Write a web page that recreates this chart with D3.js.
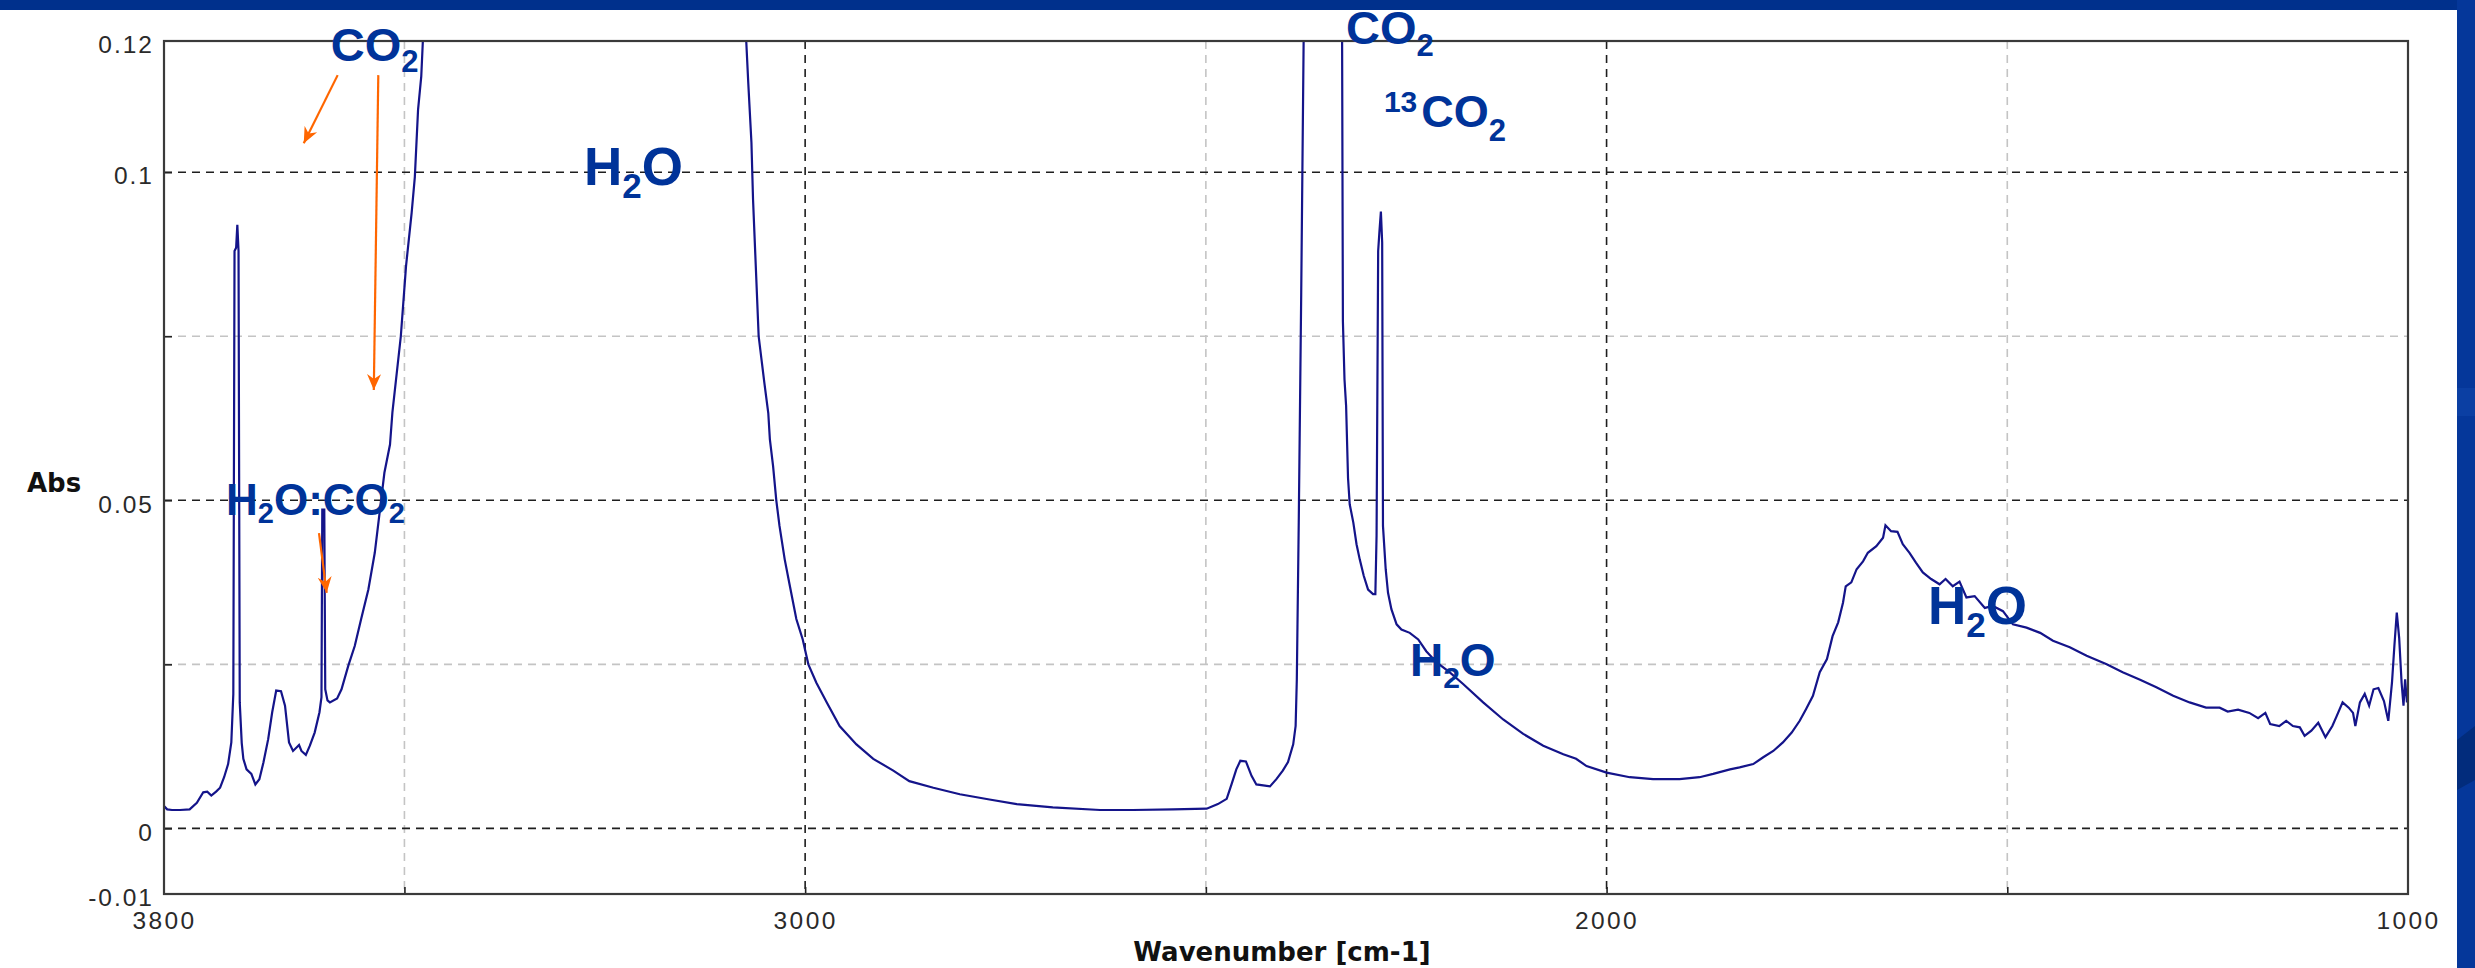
<!DOCTYPE html>
<html>
<head>
<meta charset="utf-8">
<script src="https://cdn.jsdelivr.net/npm/d3@7"></script>
<style>
  body { margin: 0; background: #fff; overflow: hidden; }
</style>
</head>
<body>
<div id="entry"></div>
<script>
// spectrum (wavenumber in cm-1, absorbance)
// 0.3 marks the parts that run past the 0.12 top of the plot
const wavenumbers = [
  3800, 3796, 3790, 3780, 3768, 3759, 3751, 3746, 3741, 3735, 3730, 3725, 3720, 3716,
  3713.5, 3712, 3710, 3708.5, 3707, 3705.5, 3703, 3701, 3697, 3691, 3686, 3681, 3676,
  3670, 3665, 3660, 3654, 3649, 3644, 3639, 3634, 3631.5, 3628.5, 3623, 3618, 3612,
  3606, 3603.5, 3602.5, 3600, 3598.8, 3596, 3593, 3584, 3578.5, 3570, 3562, 3554, 3545,
  3537, 3531, 3525, 3518, 3515, 3504.5, 3498, 3491, 3487, 3483, 3479, 3477, 3470,
  3080, 3073.5, 3071, 3067, 3065, 3058, 3051, 3046, 3044, 3040, 3036, 3032, 3025.5,
  3019, 3011, 3003, 2996, 2986, 2973, 2957, 2936, 2915, 2890, 2870, 2840, 2807, 2770,
  2736, 2691, 2632, 2591, 2541, 2499, 2485, 2474, 2468, 2462, 2457, 2450, 2443, 2437,
  2420, 2412, 2404, 2397.5, 2391, 2388, 2386.5, 2384, 2381, 2378, 2374,
  2336, 2330, 2329, 2327, 2325, 2322.6, 2320.5, 2316, 2312, 2308, 2303, 2297.6, 2291.4,
  2288.5, 2287, 2285, 2283.5, 2281.6, 2280, 2279, 2275.6, 2272.7, 2268.5, 2262, 2256,
  2245.6, 2235, 2225, 2212, 2196, 2179, 2154, 2129, 2104, 2079, 2054, 2038, 2025, 2000,
  1971, 1942, 1909, 1884, 1867, 1846, 1834, 1817, 1805, 1792, 1780, 1769, 1759, 1751,
  1742.5, 1734, 1725, 1718, 1711, 1705, 1701.6, 1694.6, 1688, 1680, 1674, 1663.4, 1655,
  1652, 1645, 1637, 1630.4, 1622, 1614, 1605.4, 1595, 1584.5, 1577, 1568, 1559.6, 1551,
  1540.7, 1528, 1518, 1505.4, 1493, 1476, 1459, 1443, 1422, 1401, 1376, 1356, 1335,
  1314, 1293, 1272.5, 1252, 1235, 1225, 1212, 1198, 1187, 1178, 1172, 1160.6, 1152,
  1143.6, 1135, 1129, 1120.6, 1112, 1103, 1094.4, 1089, 1081.6, 1074, 1068.6, 1065.7,
  1060, 1054, 1048.5, 1043, 1037, 1030, 1024.6, 1020, 1017, 1014, 1011, 1008, 1005.6,
  1003.6, 1001.3, 1000
];
const absorbance = [
  0.0034, 0.0029, 0.0028, 0.0028, 0.0029, 0.0039, 0.0055, 0.0056, 0.0050, 0.0056, 0.0062, 0.0078, 0.0098, 0.0131,
  0.0205, 0.0880, 0.0885, 0.0920, 0.0880, 0.0192, 0.0130, 0.0106, 0.0090, 0.0083, 0.0067, 0.0075, 0.0100,
  0.0136, 0.0177, 0.0210, 0.0209, 0.0187, 0.0131, 0.0118, 0.0124, 0.0127, 0.0118, 0.0112, 0.0126, 0.0146,
  0.0177, 0.0200, 0.0486, 0.0486, 0.0212, 0.0195, 0.0192, 0.0198, 0.0212, 0.0248, 0.0278, 0.0319, 0.0364,
  0.0420, 0.0481, 0.0542, 0.0585, 0.0634, 0.0750, 0.0857, 0.0938, 0.0993, 0.1095, 0.1146, 0.1200, 0.3,
  0.3, 0.1200, 0.1137, 0.1045, 0.0958, 0.0750, 0.0680, 0.0633, 0.0593, 0.0552, 0.0500, 0.0461, 0.0410,
  0.0369, 0.0319, 0.0288, 0.0250, 0.0222, 0.0192, 0.0156, 0.0128, 0.0106, 0.0088, 0.0072, 0.0062, 0.0052, 0.0044,
  0.0037, 0.0032, 0.0028, 0.0028, 0.0029, 0.0030, 0.0037, 0.0045, 0.0067, 0.0090, 0.0103, 0.0102, 0.0080, 0.0067,
  0.0064, 0.0075, 0.0088, 0.0101, 0.0128, 0.0156, 0.0227, 0.0476, 0.0817, 0.1200, 0.3,
  0.3, 0.1200, 0.0773, 0.0684, 0.0644, 0.0534, 0.0494, 0.0466, 0.0433, 0.0410, 0.0385, 0.0364, 0.0357,
  0.0357, 0.0446, 0.0880, 0.0908, 0.0940, 0.0893, 0.0461, 0.0395, 0.0359, 0.0334, 0.0311, 0.0303,
  0.0298, 0.0288, 0.0270, 0.0253, 0.0238, 0.0220, 0.0192, 0.0166, 0.0144, 0.0126, 0.0113, 0.0106, 0.0095, 0.0085,
  0.0078, 0.0075, 0.0075, 0.0078, 0.0083, 0.0090, 0.0093, 0.0098, 0.0108, 0.0118, 0.0131, 0.0146, 0.0164, 0.0182,
  0.0202, 0.0238, 0.0258, 0.0293, 0.0314, 0.0344, 0.0369, 0.0375, 0.0395, 0.0407, 0.0420, 0.0430, 0.0443,
  0.0462, 0.0453, 0.0452, 0.0433, 0.0420, 0.0405, 0.0390, 0.0380, 0.0372, 0.0380, 0.0369, 0.0376, 0.0352,
  0.0354, 0.0336, 0.0339, 0.0331, 0.0311, 0.0306, 0.0298, 0.0286, 0.0276, 0.0263, 0.0250, 0.0238, 0.0227,
  0.0215, 0.0202, 0.0192, 0.0184, 0.0184, 0.0178, 0.0181, 0.0176, 0.0168, 0.0176, 0.0159, 0.0156, 0.0164,
  0.0156, 0.0154, 0.0141, 0.0149, 0.0161, 0.0139, 0.0156, 0.0171, 0.0192, 0.0184, 0.0176, 0.0156,
  0.0192, 0.0205, 0.0187, 0.0212, 0.0214, 0.0194, 0.0164, 0.0222, 0.0278, 0.0329, 0.0290, 0.0222, 0.0187,
  0.0227, 0.0192, 0.0200
];

const xTickLabels = [3800, 3000, 2000, 1000];
const yTickLabels = [-0.01, 0, 0.05, 0.1, 0.12];
const xMajorGrid = [3000, 2000];
const xMinorGrid = [3500, 2500, 1500];
const yMajorGrid = [0, 0.05, 0.1];
const yMinorGrid = [0.025, 0.075];

// band labels, anchored in data units (left edge, baseline)
const annotations = [
  { parts: [["CO", ""], ["2", "sub"]], wn: 3592, abs: 0.1169, size: 47, small: 31, shift: 11 },
  { parts: [["H", ""], ["2", "sub"], ["O", ""]], wn: 3276, abs: 0.0981, size: 53, small: 35, shift: 13 },
  { parts: [["H", ""], ["2", "sub"], ["O:CO", ""], ["2", "sub"]], wn: 3722.6, abs: 0.0478, size: 44, small: 29, shift: 8 },
  { parts: [["CO", ""], ["2", "sub"]], wn: 2325, abs: 0.1195, size: 47, small: 31, shift: 12 },
  { parts: [["13", "sup"], ["CO", ""], ["2", "sub"]], wn: 2277.8, abs: 0.1069, size: 45, small: 31, shift: 14 },
  { parts: [["H", ""], ["2", "sub"], ["O", ""]], wn: 2245.4, abs: 0.0232, size: 46, small: 30, shift: 12 },
  { parts: [["H", ""], ["2", "sub"], ["O", ""]], wn: 1599, abs: 0.0311, size: 53, small: 35, shift: 13 }
];

const arrows = [
  { fromWn: 3583.3, fromAbs: 0.1148, toWn: 3625.6, toAbs: 0.1044 },
  { fromWn: 3532.6, fromAbs: 0.1148, toWn: 3538.2, toAbs: 0.0668 },
  { fromWn: 3606.6, fromAbs: 0.0450, toWn: 3597.0, toAbs: 0.0359 }
];

class SpectrumChart {
    constructor(width, height){
        this.width = width;
        this.height = height;
        this.left = 164;
        this.right = 2408;
        this.top = 41;
        this.bottom = 894;
        this.x = d3.scaleLinear().domain([3800, 1000]).range([this.left, this.right]);
        this.y = d3.scaleLinear().domain([-0.01, 0.12]).range([this.bottom, this.top]);
    }

    createSVG(){
        const svg = d3.select('#entry')
            .append('svg')
            .attr('width', this.width)
            .attr('height', this.height);
        svg.append('rect')
            .attr('width', this.width)
            .attr('height', this.height)
            .attr('fill', '#ffffff');
        return svg;
    }

    createSlideFrame(svg){
        // blue slide border, top and right
        svg.append('rect')
            .attr('x', 0).attr('y', 0)
            .attr('width', this.width).attr('height', 10)
            .attr('fill', '#00308c');
        svg.append('rect')
            .attr('x', 2457).attr('y', 0)
            .attr('width', this.width - 2457).attr('height', this.height)
            .attr('fill', '#05379a');
        svg.append('rect')
            .attr('x', 2457).attr('y', 388)
            .attr('width', this.width - 2457).attr('height', 28)
            .attr('fill', '#0b3fa3');
        svg.append('path')
            .attr('d', 'M2457,740 L2475,726 L2475,780 L2457,790 Z')
            .attr('fill', '#022c7c');
    }

    createGrid(svg){
        const x = this.x, y = this.y;
        const g = svg.append('g').attr('class', 'grid');

        g.selectAll('line.hmin').data(yMinorGrid).join('line')
            .attr('class', 'hmin')
            .attr('x1', this.left).attr('x2', this.right)
            .attr('y1', d => y(d)).attr('y2', d => y(d))
            .attr('stroke', '#c4c4c4').attr('stroke-width', 1.6)
            .attr('stroke-dasharray', '8,6');

        g.selectAll('line.vmin').data(xMinorGrid).join('line')
            .attr('class', 'vmin')
            .attr('x1', d => x(d)).attr('x2', d => x(d))
            .attr('y1', this.top).attr('y2', this.bottom)
            .attr('stroke', '#c4c4c4').attr('stroke-width', 1.6)
            .attr('stroke-dasharray', '8,6');

        g.selectAll('line.hmaj').data(yMajorGrid).join('line')
            .attr('class', 'hmaj')
            .attr('x1', this.left).attr('x2', this.right)
            .attr('y1', d => y(d)).attr('y2', d => y(d))
            .attr('stroke', '#1e1e1e').attr('stroke-width', 1.6)
            .attr('stroke-dasharray', '8,6');

        g.selectAll('line.vmaj').data(xMajorGrid).join('line')
            .attr('class', 'vmaj')
            .attr('x1', d => x(d)).attr('x2', d => x(d))
            .attr('y1', this.top).attr('y2', this.bottom)
            .attr('stroke', '#1e1e1e').attr('stroke-width', 1.6)
            .attr('stroke-dasharray', '8,6');
    }

    createAxes(svg){
        const x = this.x, y = this.y;
        const plotW = this.right - this.left;

        // inward ticks at every grid line
        svg.append('g')
            .attr('transform', `translate(${this.left},0)`)
            .call(d3.axisLeft(y).tickValues(yMajorGrid.concat(yMinorGrid)).tickSize(-8).tickFormat(''))
            .call(g => g.select('.domain').remove())
            .selectAll('line').attr('stroke', '#222').attr('stroke-width', 1.6);
        svg.append('g')
            .attr('transform', `translate(0,${this.bottom})`)
            .call(d3.axisBottom(x).tickValues(xMajorGrid.concat(xMinorGrid)).tickSize(-7).tickFormat(''))
            .call(g => g.select('.domain').remove())
            .selectAll('line').attr('stroke', '#222').attr('stroke-width', 1.6);

        const yAxis = svg.append('g')
            .attr('transform', `translate(${this.left},0)`)
            .call(d3.axisLeft(y).tickValues(yTickLabels).tickSize(0).tickPadding(10).tickFormat(d => String(d)));
        yAxis.select('.domain').remove();
        yAxis.selectAll('text')
            .attr('dy', '0.48em')
            .attr('font-family', '"Liberation Sans", Arial, sans-serif')
            .attr('font-size', 24.5)
            .attr('letter-spacing', 2)
            .attr('fill', '#2a2a2a');

        const xAxis = svg.append('g')
            .attr('transform', `translate(0,${this.bottom})`)
            .call(d3.axisBottom(x).tickValues(xTickLabels).tickSize(0).tickPadding(18).tickFormat(d => String(d)));
        xAxis.select('.domain').remove();
        xAxis.selectAll('text')
            .attr('font-family', '"Liberation Sans", Arial, sans-serif')
            .attr('font-size', 24.5)
            .attr('letter-spacing', 2.4)
            .attr('fill', '#2a2a2a');

        svg.append('text')
            .attr('x', 27)
            .attr('y', 492)
            .attr('font-family', '"DejaVu Sans", sans-serif')
            .attr('font-weight', 'bold')
            .attr('font-size', 26)
            .attr('fill', '#111')
            .text('Abs');

        svg.append('text')
            .attr('x', this.left + plotW * 0.5 - 4)
            .attr('y', 961)
            .attr('text-anchor', 'middle')
            .attr('font-family', '"DejaVu Sans", sans-serif')
            .attr('font-weight', 'bold')
            .attr('font-size', 26)
            .attr('fill', '#111')
            .text('Wavenumber [cm-1]');
    }

    createSpectrum(svg){
        const x = this.x, y = this.y;
        svg.append('clipPath').attr('id', 'plot-clip')
            .append('rect')
            .attr('x', this.left).attr('y', this.top)
            .attr('width', this.right - this.left)
            .attr('height', this.bottom - this.top);

        const line = d3.line()
            .x(d => x(d[0]))
            .y(d => y(d[1]));

        svg.append('path')
            .datum(d3.zip(wavenumbers, absorbance))
            .attr('clip-path', 'url(#plot-clip)')
            .attr('d', line)
            .attr('fill', 'none')
            .attr('stroke', '#14148a')
            .attr('stroke-width', 2.2)
            .attr('stroke-linejoin', 'miter');
    }

    createFrame(svg){
        svg.append('rect')
            .attr('x', this.left).attr('y', this.top)
            .attr('width', this.right - this.left)
            .attr('height', this.bottom - this.top)
            .attr('fill', 'none')
            .attr('stroke', '#3a3a3a')
            .attr('stroke-width', 2.2);
    }

    createAnnotations(svg){
        const x = this.x, y = this.y;

        svg.append('defs').append('marker')
            .attr('id', 'head')
            .attr('markerUnits', 'userSpaceOnUse')
            .attr('markerWidth', 18)
            .attr('markerHeight', 16)
            .attr('refX', 16)
            .attr('refY', 8)
            .attr('orient', 'auto')
            .append('path')
            .attr('d', 'M0,1 L16,8 L0,15 L5,8 Z')
            .attr('fill', '#ff6600');

        svg.selectAll('line.arrow').data(arrows).join('line')
            .attr('class', 'arrow')
            .attr('x1', d => x(d.fromWn)).attr('y1', d => y(d.fromAbs))
            .attr('x2', d => x(d.toWn)).attr('y2', d => y(d.toAbs))
            .attr('stroke', '#ff6600')
            .attr('stroke-width', 2.2)
            .attr('marker-end', 'url(#head)');

        annotations.forEach(a => {
            const t = svg.append('text')
                .attr('x', x(a.wn))
                .attr('y', y(a.abs))
                .attr('font-family', '"Liberation Sans", Arial, sans-serif')
                .attr('font-weight', 'bold')
                .attr('font-size', a.size)
                .attr('fill', '#003399');
            let offset = 0;
            a.parts.forEach(([str, kind]) => {
                let target = 0;
                if (kind === 'sub') target = a.shift;
                if (kind === 'sup') target = -15;
                const ts = t.append('tspan')
                    .attr('dy', target - offset)
                    .text(str);
                if (kind) ts.attr('font-size', a.small);
                if (kind === 'sup') ts.attr('font-size', 30);
                if (offset === -15 && kind === '') ts.attr('dx', 4);
                offset = target;
            });
        });
    }
}

const chart = new SpectrumChart(2475, 968);
const svg = chart.createSVG();
chart.createGrid(svg);
chart.createSpectrum(svg);
chart.createAxes(svg);
chart.createFrame(svg);
chart.createAnnotations(svg);
chart.createSlideFrame(svg);
</script>
</body>
</html>
